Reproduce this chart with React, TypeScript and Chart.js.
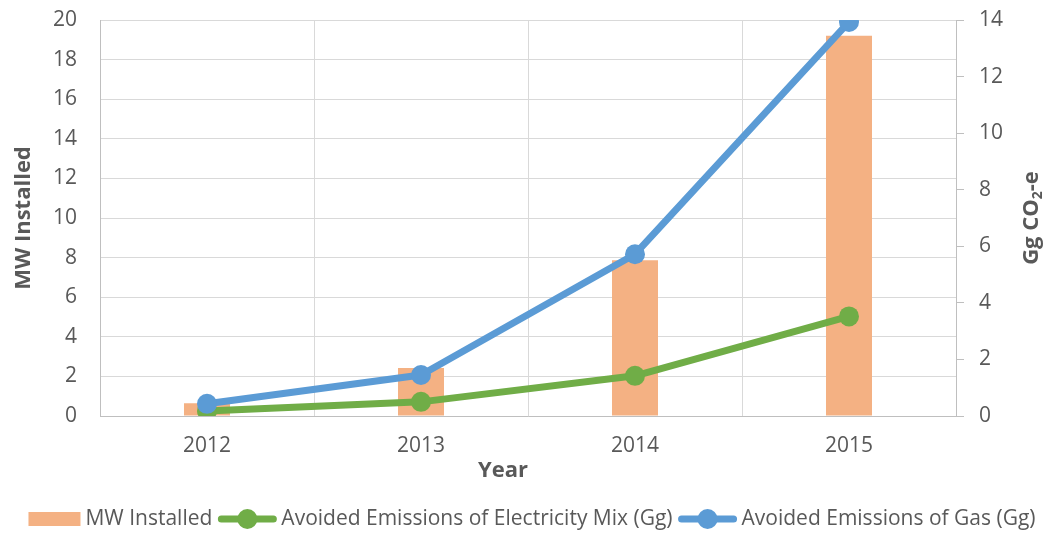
import React, { useEffect, useRef } from "react";
import { Chart, registerables } from "chart.js";

Chart.register(...registerables);

const categories = ["2012", "2013", "2014", "2015"];
const mwInstalled = [0.65, 2.42, 7.87, 19.2];
const avoidedElectricityMix = [0.18, 0.5, 1.42, 3.52];
const avoidedGas = [0.43, 1.45, 5.72, 13.93];

const seriesNames = [
  "MW Installed",
  "Avoided Emissions of Electricity Mix (Gg)",
  "Avoided Emissions of Gas (Gg)",
];
const colors = ["#f4b183", "#70ad47", "#5b9bd5"];
const TEXT = "#595959";
const FONT = "'Open Sans', sans-serif";

const annotations = {
  id: "annotations",
  afterDraw(chart: any) {
    const ctx = chart.ctx as CanvasRenderingContext2D;
    const area = chart.chartArea;
    const midY = (area.top + area.bottom) / 2;
    ctx.save();
    ctx.fillStyle = TEXT;
    ctx.textBaseline = "middle";
    ctx.textAlign = "center";
    ctx.font = `bold 22px ${FONT}`;
    // left title
    ctx.save();
    ctx.translate(24, midY);
    ctx.rotate(-Math.PI / 2);
    ctx.fillText("MW Installed", 0, 0);
    ctx.restore();
    // x title
    ctx.fillText("Year", 503, 471);
    // right title with subscript
    ctx.save();
    ctx.translate(1032, midY);
    ctx.rotate(-Math.PI / 2);
    ctx.textAlign = "left";
    const p1 = "Gg CO";
    const p3 = "-e";
    ctx.font = `bold 22px ${FONT}`;
    const w1 = ctx.measureText(p1).width;
    const w3 = ctx.measureText(p3).width;
    ctx.font = `bold 14px ${FONT}`;
    const w2 = ctx.measureText("2").width;
    const total = w1 + w2 + w3;
    let x = -total / 2;
    ctx.font = `bold 22px ${FONT}`;
    ctx.fillText(p1, x, 0);
    x += w1;
    ctx.font = `bold 14px ${FONT}`;
    ctx.fillText("2", x, 6);
    x += w2;
    ctx.font = `bold 22px ${FONT}`;
    ctx.fillText(p3, x, 0);
    ctx.restore();

    // legend
    ctx.font = `21px ${FONT}`;
    ctx.textAlign = "left";
    const ly = 519;
    const rectW = 52;
    const lineW = 58;
    const gap = 5;
    const itemGap = 6;
    const tw = seriesNames.map((s) => ctx.measureText(s).width);
    const totalW =
      rectW + gap + tw[0] + itemGap + lineW + gap + tw[1] + itemGap + lineW + gap + tw[2];
    let lx = 532 - totalW / 2;
    ctx.fillStyle = colors[0];
    ctx.fillRect(lx, ly - 7, rectW, 14);
    lx += rectW + gap;
    ctx.fillStyle = TEXT;
    ctx.fillText(seriesNames[0], lx, ly);
    lx += tw[0] + itemGap;
    for (let i = 1; i < 3; i++) {
      ctx.strokeStyle = colors[i];
      ctx.lineWidth = 7;
      ctx.lineCap = "round";
      ctx.beginPath();
      ctx.moveTo(lx + 3, ly);
      ctx.lineTo(lx + lineW - 3, ly);
      ctx.stroke();
      ctx.fillStyle = colors[i];
      ctx.beginPath();
      ctx.arc(lx + lineW / 2, ly, 10, 0, Math.PI * 2);
      ctx.fill();
      lx += lineW + gap;
      ctx.fillStyle = TEXT;
      ctx.fillText(seriesNames[i], lx, ly);
      lx += tw[i] + itemGap;
    }
    ctx.restore();
  },
};

export default function App() {
  const ref = useRef<HTMLCanvasElement | null>(null);
  useEffect(() => {
    document.body.style.margin = "0";
    const canvas = ref.current;
    if (!canvas) return;
    const chart = new Chart(canvas, {
      data: {
        labels: categories,
        datasets: [
          {
            type: "bar",
            label: seriesNames[0],
            data: mwInstalled,
            backgroundColor: colors[0],
            yAxisID: "y",
            barPercentage: 1,
            categoryPercentage: 0.215,
            order: 3,
          },
          {
            type: "line",
            label: seriesNames[1],
            data: avoidedElectricityMix,
            borderColor: colors[1],
            backgroundColor: colors[1],
            pointBackgroundColor: colors[1],
            pointBorderWidth: 0,
            pointRadius: 10,
            borderWidth: 7,
            borderCapStyle: "round",
            borderJoinStyle: "round",
            yAxisID: "y1",
            order: 2,
          },
          {
            type: "line",
            label: seriesNames[2],
            data: avoidedGas,
            borderColor: colors[2],
            backgroundColor: colors[2],
            pointBackgroundColor: colors[2],
            pointBorderWidth: 0,
            pointRadius: 10,
            borderWidth: 7,
            borderCapStyle: "round",
            borderJoinStyle: "round",
            yAxisID: "y1",
            order: 1,
          },
        ],
      } as any,
      options: {
        responsive: false,
        animation: false,
        devicePixelRatio: 1,
        layout: { autoPadding: false, padding: { top: 20, left: 0, right: 0, bottom: 0 } },
        plugins: { legend: { display: false }, tooltip: { enabled: false } },
        scales: {
          x: {
            type: "category",
            offset: true,
            grid: { offset: true, color: "#d9d9d9", drawTicks: false },
            border: { color: "#bfbfbf" },
            ticks: { color: TEXT, font: { family: FONT, size: 21 }, padding: 17 },
            afterFit: (s: any) => {
              s.height = 117;
              s.paddingLeft = 0;
              s.paddingRight = 0;
            },
          },
          y: {
            position: "left",
            min: 0,
            max: 20,
            ticks: { stepSize: 2, color: TEXT, font: { family: FONT, size: 21 }, padding: 23 },
            grid: { color: "#d9d9d9", drawTicks: false },
            border: { color: "#bfbfbf" },
            afterFit: (s: any) => {
              s.width = 100;
              s.paddingTop = 0;
              s.paddingBottom = 0;
            },
          },
          y1: {
            position: "right",
            min: 0,
            max: 14,
            ticks: { stepSize: 2, color: TEXT, font: { family: FONT, size: 21 }, padding: 15 },
            grid: { drawOnChartArea: false, color: "#bfbfbf", tickLength: 8 },
            border: { color: "#bfbfbf" },
            afterFit: (s: any) => {
              s.width = 88;
              s.paddingTop = 0;
              s.paddingBottom = 0;
            },
          },
        },
      } as any,
      plugins: [annotations],
    });
    return () => chart.destroy();
  }, []);
  return (
    <div style={{ width: 1044, height: 533 }}>
      <canvas ref={ref} width={1044} height={533} />
    </div>
  );
}
